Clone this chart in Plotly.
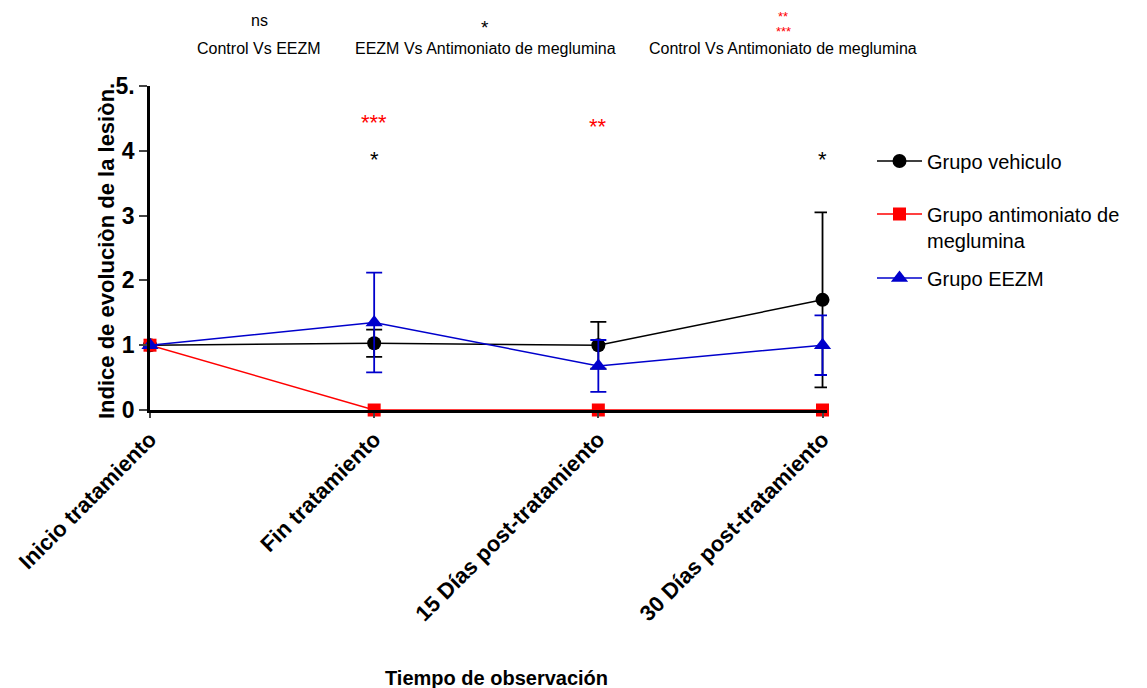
import plotly.graph_objects as go

categories = ["Inicio tratamiento", "Fin tratamiento", "15 Días post-tratamiento", "30 Días post-tratamiento"]
vehiculo = [1.0, 1.03, 1.0, 1.7]
vehiculo_err = [0.0, 0.21, 0.36, 1.35]
antimoniato = [1.0, 0.0, 0.0, 0.0]
eezm = [1.0, 1.35, 0.68, 1.0]
eezm_err = [0.0, 0.77, 0.40, 0.46]

# significance marks above each time point: (category index, y value, text, color)
sig_marks = [
    (1, 4.43, "***", "red"),
    (1, 3.86, "*", "black"),
    (2, 4.38, "**", "red"),
    (3, 3.86, "*", "black"),
]
# header comparisons
header_labels = ["Control Vs EEZM", "EEZM Vs Antimoniato de meglumina", "Control Vs Antimoniato de meglumina"]
header_marks = [["ns"], ["*"], ["**", "***"]]
header_colors = ["black", "black", "red"]

FONT = "Arial, Liberation Sans, sans-serif"
xs = list(range(len(categories)))

# page body has an 8px margin: compensate
OFF = 8
W, H = 1147, 688
PL, PT, PR, PB = 150, 86, 827, 410  # desired plot area in screen px
L, T = PL - OFF, PT - OFF
R = W - (PR - OFF)
B = H - (PB - OFF)
pw, ph = PR - PL, PB - PT

def sx(px):
    return (px - PL) / pw

def sy(py):
    return (PB - py) / ph

fig = go.Figure()
fig.add_trace(go.Scatter(
    x=xs, y=vehiculo, name="Grupo vehiculo", mode="lines+markers",
    line=dict(color="black", width=1.5),
    marker=dict(symbol="circle", size=14, color="black"),
    error_y=dict(type="data", array=vehiculo_err, color="black", thickness=1.8, width=8),
    cliponaxis=False, legend="legend",
))
fig.add_trace(go.Scatter(
    x=xs, y=antimoniato, name="Grupo antimoniato de<br>meglumina", mode="lines+markers",
    line=dict(color="red", width=1.5),
    marker=dict(symbol="square", size=13, color="red"),
    cliponaxis=False, legend="legend2",
))
fig.add_trace(go.Scatter(
    x=xs, y=eezm, name="Grupo EEZM", mode="lines+markers",
    line=dict(color="#0000CC", width=1.5),
    marker=dict(symbol="triangle-up", size=15, color="#0000CC"),
    error_y=dict(type="data", array=eezm_err, color="#0000CC", thickness=1.8, width=8),
    cliponaxis=False, legend="legend3",
))

for (ci, yv, txt, col) in sig_marks:
    fig.add_annotation(x=ci, y=yv, text=txt, showarrow=False, xref="x", yref="y",
                       xanchor="center", yanchor="middle",
                       font=dict(family=FONT, size=22, color=col))

header_x = [259, 485, 783]
for i, label in enumerate(header_labels):
    cx = header_x[i]
    fig.add_annotation(x=sx(cx), y=sy(49), xref="paper", yref="paper", xanchor="center", yanchor="middle",
                       text=label, showarrow=False,
                       font=dict(family=FONT, size=16, color="black"))
    marks = header_marks[i]
    if len(marks) == 1:
        ypos = 20 if marks[0] == "ns" else 27
        fs = 16 if marks[0] == "ns" else 19
        fig.add_annotation(x=sx(cx), y=sy(ypos), xref="paper", yref="paper", xanchor="center",
                           yanchor="middle", text=marks[0], showarrow=False,
                           font=dict(family=FONT, size=fs, color=header_colors[i]))
    else:
        for j, m in enumerate(marks):
            fig.add_annotation(x=sx(cx), y=sy(17 + 15 * j), xref="paper", yref="paper", xanchor="center",
                               yanchor="middle", text=m, showarrow=False,
                               font=dict(family=FONT, size=13, color=header_colors[i]))

# axis titles as annotations (screen positions)
fig.add_annotation(x=sx(496), y=sy(678), xref="paper", yref="paper", xanchor="center", yanchor="middle",
                   text="<b>Tiempo de observación</b>", showarrow=False,
                   font=dict(family=FONT, size=20, color="black"))
fig.add_annotation(x=sx(106), y=sy(251), xref="paper", yref="paper", xanchor="center", yanchor="middle",
                   text="<b>Indice de evoluciòn de la lesiòn.</b>", showarrow=False, textangle=-90,
                   font=dict(family=FONT, size=22, color="black"))

leg_common = dict(xanchor="left", yanchor="middle", font=dict(family=FONT, size=20, color="black"),
                  itemwidth=45, bgcolor="rgba(0,0,0,0)", valign="top")

fig.update_layout(
    width=W, height=H,
    margin=dict(l=L, r=R, t=T, b=B),
    plot_bgcolor="white", paper_bgcolor="white",
    font=dict(family=FONT, color="black"),
    showlegend=True,
    legend=dict(x=sx(872), y=sy(161), **leg_common),
    legend2=dict(x=sx(872), y=sy(227), **leg_common),
    legend3=dict(x=sx(872), y=sy(278), **leg_common),
    xaxis=dict(
        range=[0, 3.02], tickmode="array", tickvals=xs, ticktext=categories,
        tickangle=-45, tickfont=dict(family=FONT, size=22, color="black", weight="bold"),
        showline=True, linecolor="black", linewidth=2.5, ticks="outside", ticklen=5, tickwidth=2,
        showgrid=False, zeroline=False, automargin=False,
    ),
    yaxis=dict(
        range=[0, 5], tickvals=[0, 1, 2, 3, 4, 5], ticktext=["0", "1", "2", "3", "4", "5."],
        tickfont=dict(family=FONT, size=23, color="black", weight="bold"),
        showline=True, linecolor="black", linewidth=2.5, ticks="outside", ticklen=8, tickwidth=2,
        showgrid=False, zeroline=False, automargin=False,
    ),
)

fig.write_html("out.html")
